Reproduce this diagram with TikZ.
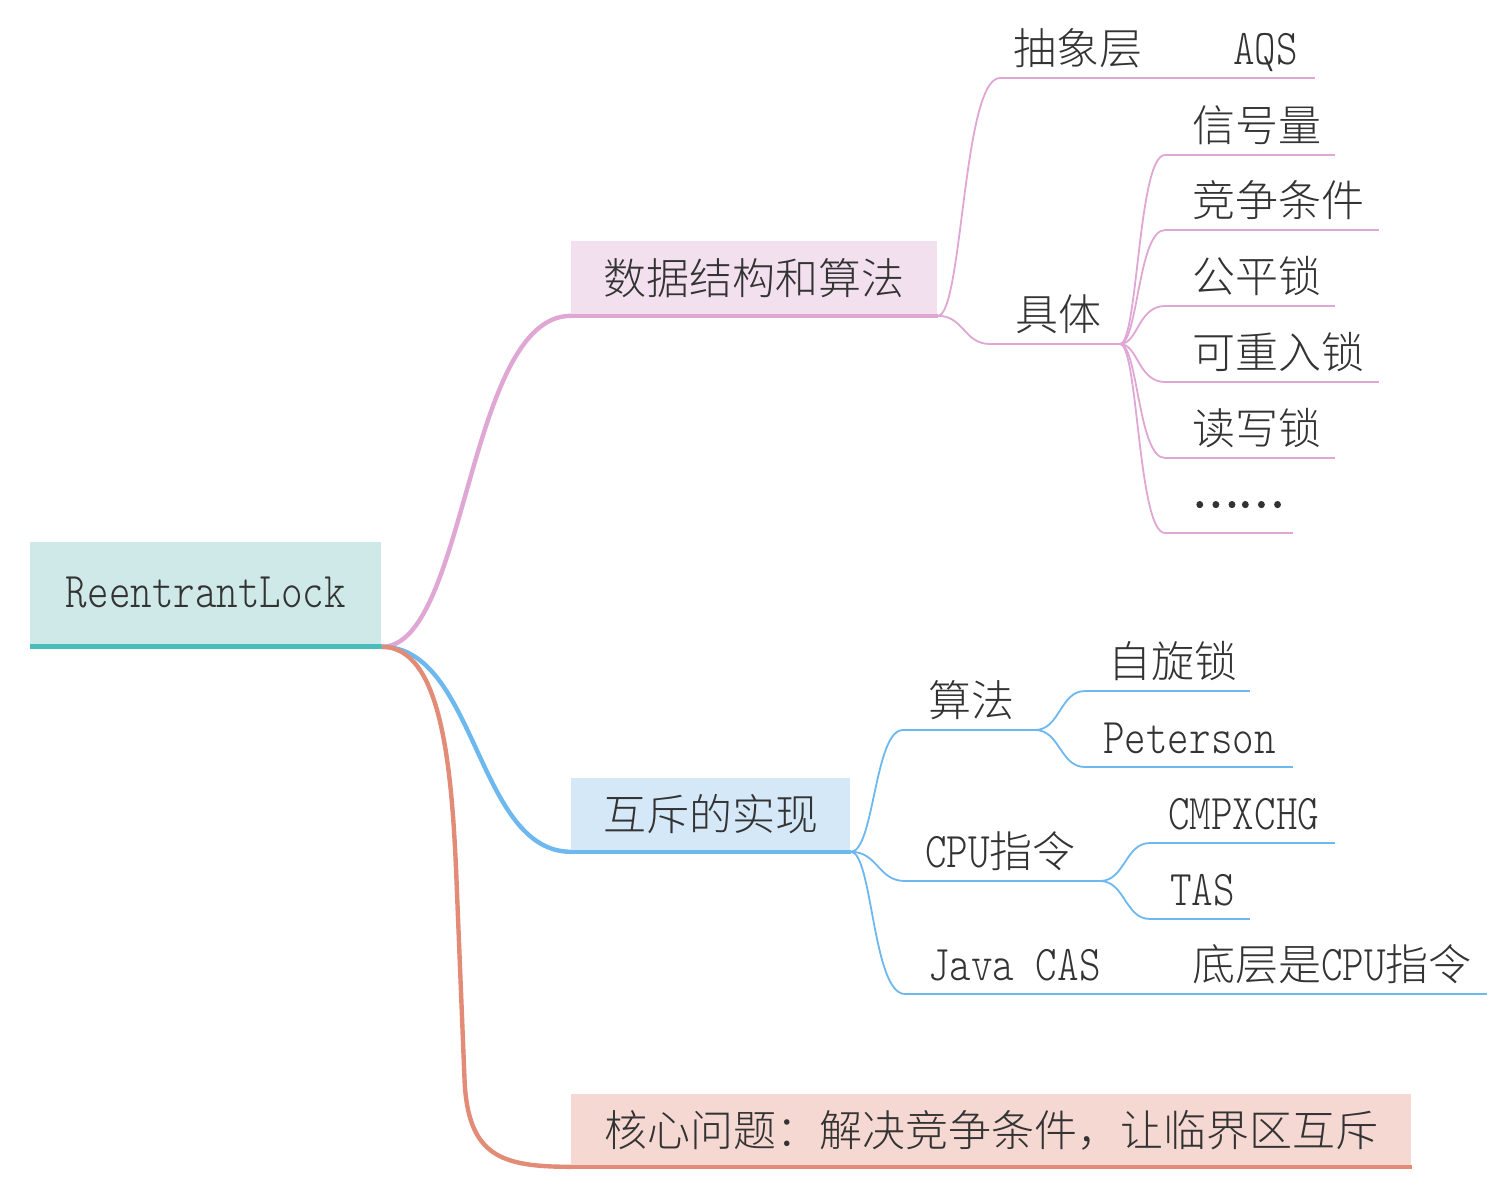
\documentclass[tikz,border=0pt]{standalone}
\usepackage{fontspec}
\setmainfont{Noto Sans CJK SC Light}
\newfontfamily\cjkreg{Noto Sans CJK SC}[FakeBold=2.5]
\newfontfamily\latfont{lmmonolt10-regular.otf}[FakeStretch=0.82]
\usetikzlibrary{calc}
\definecolor{txtc}{HTML}{333333}
\definecolor{rootfill}{HTML}{CFE8E8}
\definecolor{rootline}{HTML}{4BBCBC}
\definecolor{pinkfill}{HTML}{F3E0EE}
\definecolor{pinkline}{HTML}{E0A6D4}
\definecolor{bluefill}{HTML}{D5E8F8}
\definecolor{blueline}{HTML}{6DB8EE}
\definecolor{salfill}{HTML}{F5D8D2}
\definecolor{salline}{HTML}{E28C77}
\newcommand\lat[1]{{\latfont\fontsize{25}{30}\selectfont #1}}
\newcommand\conn[4]{\draw[#1] let \p1=(#2), \p2=(#3) in (\p1) .. controls ({\x1+#4*(\x2-\x1)},\y1) and ({\x1+#4*(\x2-\x1)},\y2) .. (\p2);}
\tikzset{
  box/.style={anchor=north west, inner sep=0pt, text=txtc, font=\fontsize{21.5}{26}\selectfont},
  lbl/.style={anchor=base west, inner sep=0pt, text=txtc, font=\fontsize{21.5}{26}\selectfont},
  bigpink/.style={pinkline, line width=2.2pt},
  bigblue/.style={blueline, line width=2.2pt},
  bigsal/.style={salline, line width=2.2pt},
  thinpink/.style={pinkline, line width=0.9pt},
  thinblue/.style={blueline, line width=0.9pt},
}
\begin{document}
\begin{tikzpicture}[x=0.5pt,y=-0.5pt]
\useasboundingbox[fill=white] (0,0) rectangle (1512,1190);

% boxes
\node[box, fill=rootfill, minimum width=175.5pt, minimum height=52pt] (root) at (30,542) {\raisebox{2pt}{\lat{ReentrantLock}}};
\draw[rootline, line width=2.6pt] (root.south west) -- (root.south east);

\node[box, fill=pinkfill, minimum width=183pt, minimum height=37pt] (b1) at (571,241) {\raisebox{2pt}{数据结构和算法}};
\draw[pinkline, line width=2pt] (b1.south west) -- (b1.south east);

\node[box, fill=bluefill, minimum width=139.5pt, minimum height=36.5pt] (b2) at (571,778) {\raisebox{2pt}{互斥的实现}};
\draw[blueline, line width=2pt] (b2.south west) -- (b2.south east);

\node[box, fill=salfill, minimum width=420pt, minimum height=36pt] (b3) at (571,1094) {\raisebox{2pt}{核心问题：解决竞争条件，让临界区互斥}};
\draw[salline, line width=2pt] (b3.south west) -- (b3.south east);

% main connectors
\conn{bigpink}{root.south east}{b1.south west}{0.45}
\conn{bigblue}{root.south east}{b2.south west}{0.5}
\draw[bigsal] let \p1=(root.south east), \p2=(b3.south west) in
  (\p1) .. controls ({\x1+0.31*(\x2-\x1)},\y1) and ({\x1+0.37*(\x2-\x1)},{\y1+0.22*(\y2-\y1)}) ..
  ({\x1+0.395*(\x2-\x1)},{\y1+0.45*(\y2-\y1)}) -- ({\x1+0.437*(\x2-\x1)},{\y1+0.83*(\y2-\y1)}) ..
  controls ({\x1+0.453*(\x2-\x1)},{\y1+0.98*(\y2-\y1)}) and ({\x1+0.63*(\x2-\x1)},\y2) .. (\p2);

% branch 1: abstract layer
\coordinate (cx1) at (1000,78);
\coordinate (cx2) at (1205,78);
\coordinate (cx3) at (1315,78);
\draw[thinpink] (cx1) -- (cx2);
\draw[thinpink] (cx2) -- (cx3);
\conn{thinpink}{b1.south east}{cx1}{0.4}
\node[lbl] (chouxiang) at (1013,64) {抽象层};
\node[lbl] (aqs) at (1233,64) {\lat{AQS}};

% branch 1: concrete
\coordinate (jt1) at (990,344);
\coordinate (jt2) at (1120,344);
\draw[thinpink] (jt1) -- (jt2);
\conn{thinpink}{b1.south east}{jt1}{0.5}
\node[lbl] (juti) at (1015,330) {具体};

\foreach \nm/\yy/\ee/\tx in {xh/155/1335/信号量, jz/230/1379/竞争条件, gp/306/1335/公平锁, kc/382/1379/可重入锁, dx/458/1335/读写锁, dd/533/1293/\raisebox{6pt}{\cjkreg ……}}{
  \coordinate (\nm s) at (1165,\yy);
  \coordinate (\nm e) at (\ee,\yy);
  \draw[thinpink] (\nm s) -- (\nm e);
  \conn{thinpink}{jt2}{\nm s}{0.4}
  \node[lbl] (\nm) at (1192,\yy-14) {\tx};
}

% branch 2
\coordinate (sf1) at (903,730);
\coordinate (sf2) at (1035,730);
\draw[thinblue] (sf1) -- (sf2);
\conn{thinblue}{b2.south east}{sf1}{0.45}
\node[lbl] (suanfa) at (928,716) {算法};

\coordinate (zx1) at (1085,691);
\coordinate (zx2) at (1250,691);
\draw[thinblue] (zx1) -- (zx2);
\conn{thinblue}{sf2}{zx1}{0.5}
\node[lbl] (zixuan) at (1108,677) {自旋锁};

\coordinate (pt1) at (1085,767);
\coordinate (pt2) at (1293,767);
\draw[thinblue] (pt1) -- (pt2);
\conn{thinblue}{sf2}{pt1}{0.5}
\node[lbl] (peterson) at (1103,753) {\lat{Peterson}};

\coordinate (cpu1) at (905,881);
\coordinate (cpu2) at (1100,881);
\draw[thinblue] (cpu1) -- (cpu2);
\conn{thinblue}{b2.south east}{cpu1}{0.5}
\node[lbl] (cpu) at (925,867) {\lat{CPU}指令};

\coordinate (cmp1) at (1150,843);
\coordinate (cmp2) at (1335,843);
\draw[thinblue] (cmp1) -- (cmp2);
\conn{thinblue}{cpu2}{cmp1}{0.5}
\node[lbl] (cmpxchg) at (1168,829) {\lat{CMPXCHG}};

\coordinate (tas1) at (1150,919);
\coordinate (tas2) at (1250,919);
\draw[thinblue] (tas1) -- (tas2);
\conn{thinblue}{cpu2}{tas1}{0.5}
\node[lbl] (tas) at (1170,905) {\lat{TAS}};

\coordinate (jc1) at (905,994);
\coordinate (jc2) at (1175,994);
\coordinate (jc3) at (1487,994);
\draw[thinblue] (jc1) -- (jc2);
\draw[thinblue] (jc2) -- (jc3);
\conn{thinblue}{b2.south east}{jc1}{0.4}
\node[lbl] (javacas) at (928,980) {\lat{Java CAS}};
\node[lbl] (dicen) at (1192,980) {底层是\lat{CPU}指令};

\end{tikzpicture}
\end{document}
